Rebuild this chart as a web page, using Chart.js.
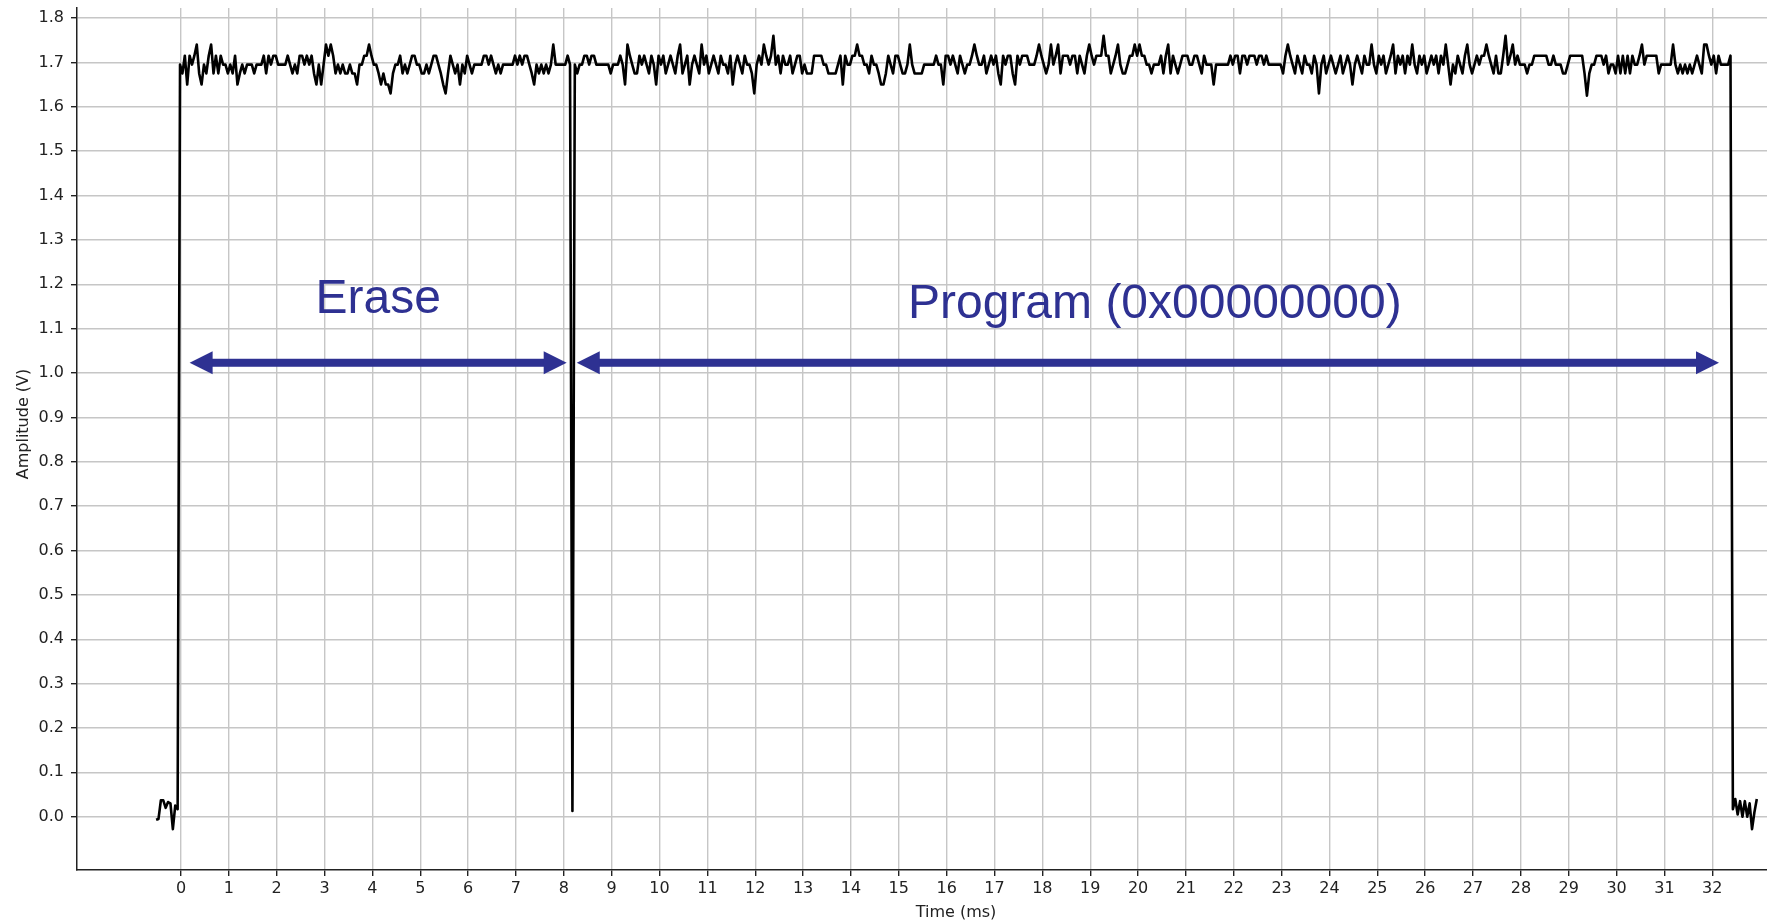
<!DOCTYPE html>
<html>
<head>
<meta charset="utf-8">
<title>Erase / Program waveform</title>
<script src="https://cdn.jsdelivr.net/npm/chart.js@4.4.1/dist/chart.umd.min.js"></script>
<style>
  html, body { margin: 0; padding: 0; background: #fff; overflow: hidden; }
  #wrap { width: 1835px; height: 921px; }
</style>
</head>
<body>
<div id="wrap"><canvas id="scope" width="1835" height="921"></canvas></div>
<script>
// scope capture: one sample every 0.05 ms, first sample at -0.52 ms
const SAMPLE_MS = 0.05;
const START_MS = -0.52;

// samples before the supply comes up (V)
const preTrigger = [-0.007, -0.005, 0.037, 0.037, 0.02, 0.033, 0.03, -0.028, 0.025, 0.017];

// erase phase, -0.02 .. 8.13 ms
const eraseSegment = [
  1.695, 1.675, 1.715, 1.65, 1.715, 1.695, 1.715, 1.74, 1.675, 1.65, 1.695, 1.675, 1.715, 1.74, 1.675, 1.715, 1.675, 1.715, 1.695, 1.695,
  1.675, 1.695, 1.675, 1.715, 1.65, 1.675, 1.695, 1.675, 1.695, 1.695, 1.695, 1.675, 1.695, 1.695, 1.695, 1.715, 1.675, 1.715, 1.695, 1.715,
  1.715, 1.695, 1.695, 1.695, 1.695, 1.715, 1.695, 1.675, 1.695, 1.675, 1.715, 1.715, 1.695, 1.715, 1.695, 1.715, 1.675, 1.65, 1.695, 1.65,
  1.695, 1.74, 1.715, 1.74, 1.715, 1.675, 1.695, 1.675, 1.695, 1.675, 1.675, 1.695, 1.675, 1.675, 1.65, 1.695, 1.695, 1.715, 1.715, 1.74,
  1.715, 1.695, 1.695, 1.675, 1.65, 1.675, 1.65, 1.65, 1.63, 1.675, 1.695, 1.695, 1.715, 1.675, 1.695, 1.675, 1.695, 1.715, 1.715, 1.695,
  1.695, 1.675, 1.675, 1.695, 1.675, 1.695, 1.715, 1.715, 1.695, 1.675, 1.65, 1.63, 1.675, 1.715, 1.695, 1.675, 1.695, 1.65, 1.695, 1.675,
  1.715, 1.695, 1.675, 1.695, 1.695, 1.695, 1.695, 1.715, 1.715, 1.695, 1.715, 1.695, 1.675, 1.695, 1.675, 1.695, 1.695, 1.695, 1.695, 1.695,
  1.715, 1.695, 1.715, 1.695, 1.715, 1.715, 1.695, 1.675, 1.65, 1.695, 1.675, 1.695, 1.675, 1.695, 1.675, 1.695, 1.74, 1.695, 1.695, 1.695,
  1.695, 1.695, 1.715, 1.695
];

// short drop between erase and program, 8.18 ms
const eraseGap = [0.013];

// program phase, 8.23 .. 32.38 ms
const programSegment = [
  1.695, 1.675, 1.695, 1.695, 1.715, 1.715, 1.695, 1.715, 1.715, 1.695, 1.695, 1.695, 1.695, 1.695, 1.695, 1.675, 1.695, 1.695, 1.695, 1.715,
  1.695, 1.65, 1.74, 1.715, 1.695, 1.675, 1.675, 1.715, 1.695, 1.715, 1.695, 1.675, 1.715, 1.695, 1.65, 1.715, 1.695, 1.715, 1.675, 1.695,
  1.715, 1.695, 1.675, 1.715, 1.74, 1.675, 1.695, 1.715, 1.65, 1.695, 1.715, 1.695, 1.675, 1.74, 1.695, 1.715, 1.675, 1.695, 1.715, 1.695,
  1.675, 1.715, 1.695, 1.695, 1.675, 1.715, 1.65, 1.695, 1.715, 1.695, 1.675, 1.715, 1.695, 1.695, 1.675, 1.63, 1.695, 1.715, 1.695, 1.74,
  1.715, 1.695, 1.715, 1.76, 1.695, 1.715, 1.675, 1.715, 1.695, 1.695, 1.715, 1.675, 1.695, 1.715, 1.715, 1.675, 1.695, 1.675, 1.675, 1.675,
  1.715, 1.715, 1.715, 1.715, 1.695, 1.695, 1.675, 1.675, 1.675, 1.675, 1.695, 1.715, 1.65, 1.715, 1.695, 1.695, 1.715, 1.715, 1.74, 1.715,
  1.715, 1.695, 1.695, 1.675, 1.715, 1.695, 1.695, 1.675, 1.65, 1.65, 1.675, 1.715, 1.695, 1.675, 1.715, 1.715, 1.695, 1.675, 1.675, 1.695,
  1.74, 1.695, 1.675, 1.675, 1.675, 1.675, 1.695, 1.695, 1.695, 1.695, 1.695, 1.715, 1.695, 1.695, 1.65, 1.715, 1.715, 1.695, 1.715, 1.695,
  1.675, 1.715, 1.695, 1.675, 1.695, 1.695, 1.715, 1.74, 1.715, 1.695, 1.695, 1.715, 1.675, 1.695, 1.715, 1.695, 1.715, 1.675, 1.65, 1.715,
  1.695, 1.715, 1.715, 1.675, 1.65, 1.715, 1.695, 1.715, 1.715, 1.715, 1.695, 1.695, 1.695, 1.715, 1.74, 1.715, 1.695, 1.675, 1.695, 1.74,
  1.695, 1.715, 1.74, 1.675, 1.715, 1.715, 1.715, 1.695, 1.715, 1.715, 1.675, 1.715, 1.695, 1.675, 1.715, 1.74, 1.715, 1.695, 1.715, 1.715,
  1.715, 1.76, 1.715, 1.715, 1.675, 1.695, 1.715, 1.74, 1.695, 1.675, 1.675, 1.695, 1.715, 1.715, 1.74, 1.715, 1.74, 1.715, 1.715, 1.695,
  1.695, 1.675, 1.695, 1.695, 1.695, 1.715, 1.675, 1.715, 1.74, 1.675, 1.715, 1.695, 1.675, 1.695, 1.715, 1.715, 1.715, 1.695, 1.695, 1.715,
  1.715, 1.695, 1.675, 1.715, 1.695, 1.695, 1.695, 1.65, 1.695, 1.695, 1.695, 1.695, 1.695, 1.695, 1.715, 1.695, 1.715, 1.715, 1.675, 1.715,
  1.715, 1.695, 1.715, 1.715, 1.715, 1.695, 1.715, 1.715, 1.695, 1.715, 1.695, 1.695, 1.695, 1.695, 1.695, 1.695, 1.675, 1.715, 1.74, 1.715,
  1.695, 1.675, 1.715, 1.695, 1.675, 1.715, 1.695, 1.695, 1.675, 1.715, 1.695, 1.63, 1.695, 1.715, 1.675, 1.695, 1.715, 1.695, 1.675, 1.695,
  1.715, 1.675, 1.695, 1.715, 1.695, 1.65, 1.695, 1.715, 1.695, 1.675, 1.715, 1.695, 1.695, 1.74, 1.695, 1.675, 1.715, 1.695, 1.715, 1.675,
  1.695, 1.715, 1.74, 1.675, 1.715, 1.695, 1.715, 1.675, 1.715, 1.695, 1.74, 1.695, 1.675, 1.715, 1.695, 1.715, 1.675, 1.695, 1.715, 1.695,
  1.715, 1.675, 1.715, 1.695, 1.74, 1.695, 1.65, 1.695, 1.675, 1.715, 1.695, 1.675, 1.715, 1.74, 1.695, 1.675, 1.695, 1.715, 1.695, 1.715,
  1.715, 1.74, 1.715, 1.695, 1.675, 1.715, 1.675, 1.675, 1.715, 1.76, 1.695, 1.715, 1.74, 1.695, 1.715, 1.695, 1.695, 1.695, 1.675, 1.695,
  1.695, 1.715, 1.715, 1.715, 1.715, 1.715, 1.715, 1.695, 1.695, 1.715, 1.695, 1.695, 1.695, 1.675, 1.675, 1.695, 1.715, 1.715, 1.715, 1.715,
  1.715, 1.715, 1.675, 1.625, 1.675, 1.695, 1.695, 1.715, 1.715, 1.715, 1.695, 1.715, 1.675, 1.695, 1.695, 1.675, 1.715, 1.675, 1.715, 1.675,
  1.715, 1.675, 1.715, 1.695, 1.695, 1.715, 1.74, 1.695, 1.715, 1.715, 1.715, 1.715, 1.715, 1.675, 1.695, 1.695, 1.695, 1.695, 1.695, 1.74,
  1.695, 1.675, 1.695, 1.675, 1.695, 1.675, 1.695, 1.675, 1.695, 1.715, 1.695, 1.675, 1.74, 1.74, 1.715, 1.695, 1.715, 1.675, 1.715, 1.695,
  1.695, 1.695, 1.695, 1.715
];

// after the supply drops, 32.43 .. 32.93 ms
const postSegment = [0.017, 0.04, 0.005, 0.035, 0.0, 0.035, 0.0, 0.03, -0.028, 0.01, 0.04];

const xTicks = [0, 1, 2, 3, 4, 5, 6, 7, 8, 9, 10, 11, 12, 13, 14, 15, 16, 17, 18, 19, 20,
                21, 22, 23, 24, 25, 26, 27, 28, 29, 30, 31, 32];
const yTicks = [0.0, 0.1, 0.2, 0.3, 0.4, 0.5, 0.6, 0.7, 0.8, 0.9, 1.0,
                1.1, 1.2, 1.3, 1.4, 1.5, 1.6, 1.7, 1.8];

// phase markers in data units (ms, V)
const phaseArrows = [
  { from: 0.18, to: 8.06, level: 1.023 },
  { from: 8.27, to: 32.14, level: 1.023 }
];
const phaseLabels = [
  { text: 'Erase', at: 4.12, level: 1.135 },
  { text: 'Program (0x00000000)', at: 20.35, level: 1.124 }
];
const yTitle = { text: 'Amplitude (V)', level: 0.885 };

const amplitude = [].concat(preTrigger, eraseSegment, eraseGap, programSegment, postSegment);
const points = amplitude.map((v, i) => ({ x: START_MS + i * SAMPLE_MS, y: v }));

const ARROW_BLUE = '#2e3192';

const phasePlugin = {
  id: 'phaseMarkers',
  afterDatasetsDraw(chart) {
    const { ctx, scales } = chart;
    const xs = scales.x, ys = scales.y;
    const head = 23, half = 11.5, shaft = 8;
    ctx.save();
    ctx.fillStyle = ARROW_BLUE;
    phaseArrows.forEach(a => {
      const x0 = xs.getPixelForValue(a.from);
      const x1 = xs.getPixelForValue(a.to);
      const py = ys.getPixelForValue(a.level);
      ctx.fillRect(x0 + head - 1, py - shaft / 2, x1 - x0 - 2 * head + 2, shaft);
      ctx.beginPath();
      ctx.moveTo(x0, py);
      ctx.lineTo(x0 + head, py - half);
      ctx.lineTo(x0 + head, py + half);
      ctx.closePath();
      ctx.fill();
      ctx.beginPath();
      ctx.moveTo(x1, py);
      ctx.lineTo(x1 - head, py - half);
      ctx.lineTo(x1 - head, py + half);
      ctx.closePath();
      ctx.fill();
    });
    ctx.font = '48px "Liberation Sans", Arial, sans-serif';
    ctx.textAlign = 'center';
    ctx.textBaseline = 'alphabetic';
    phaseLabels.forEach(l => {
      ctx.fillText(l.text, xs.getPixelForValue(l.at), ys.getPixelForValue(l.level));
    });
    ctx.restore();
  },
  afterDraw(chart) {
    // y axis title, centred where the original figure had it
    const { ctx, scales } = chart;
    ctx.save();
    ctx.fillStyle = '#222';
    ctx.font = '16px "DejaVu Sans", sans-serif';
    ctx.textAlign = 'center';
    ctx.textBaseline = 'middle';
    ctx.translate(24, scales.y.getPixelForValue(yTitle.level));
    ctx.rotate(-Math.PI / 2);
    ctx.fillText(yTitle.text, 0, 0);
    ctx.restore();
  }
};

Chart.defaults.font.family = '"DejaVu Sans", sans-serif';
Chart.defaults.font.size = 16;
Chart.defaults.color = '#222';

new Chart(document.getElementById('scope'), {
  type: 'line',
  data: {
    datasets: [{
      data: points,
      borderColor: '#000',
      borderWidth: 2.6,
      borderJoinStyle: 'round',
      pointRadius: 0,
      tension: 0,
      fill: false
    }]
  },
  options: {
    responsive: false,
    animation: false,
    parsing: false,
    devicePixelRatio: 1,
    layout: { padding: { top: 8, right: 0, bottom: 0, left: 0 } },
    plugins: { legend: { display: false }, tooltip: { enabled: false } },
    scales: {
      x: {
        type: 'linear',
        min: -2.173,
        max: 34.564,
        afterFit: s => { s.height = 51; s.paddingLeft = 0; s.paddingRight = 0; },
        afterBuildTicks: s => { s.ticks = xTicks.map(v => ({ value: v })); },
        ticks: { autoSkip: false, maxRotation: 0, padding: 3, callback: v => String(v) },
        grid: { color: '#c6c6c6', lineWidth: 1.4, tickColor: '#222', tickLength: 6, tickWidth: 1.4 },
        border: { display: true, color: '#222', width: 1.5 },
        title: { display: true, text: 'Time (ms)', font: { lineHeight: 1.05 }, padding: { top: 0, bottom: 0 } }
      },
      y: {
        type: 'linear',
        min: -0.1201,
        max: 1.8225,
        afterFit: s => { s.width = 77; s.paddingTop = 0; s.paddingBottom = 0; },
        afterBuildTicks: s => { s.ticks = yTicks.map(v => ({ value: v })); },
        ticks: { padding: 7, callback: v => v.toFixed(1) },
        grid: { color: '#c6c6c6', lineWidth: 1.4, tickColor: '#222', tickLength: 6, tickWidth: 1.4 },
        border: { display: true, color: '#222', width: 1.5 },
        title: { display: false }
      }
    }
  },
  plugins: [phasePlugin]
});
</script>
</body>
</html>
